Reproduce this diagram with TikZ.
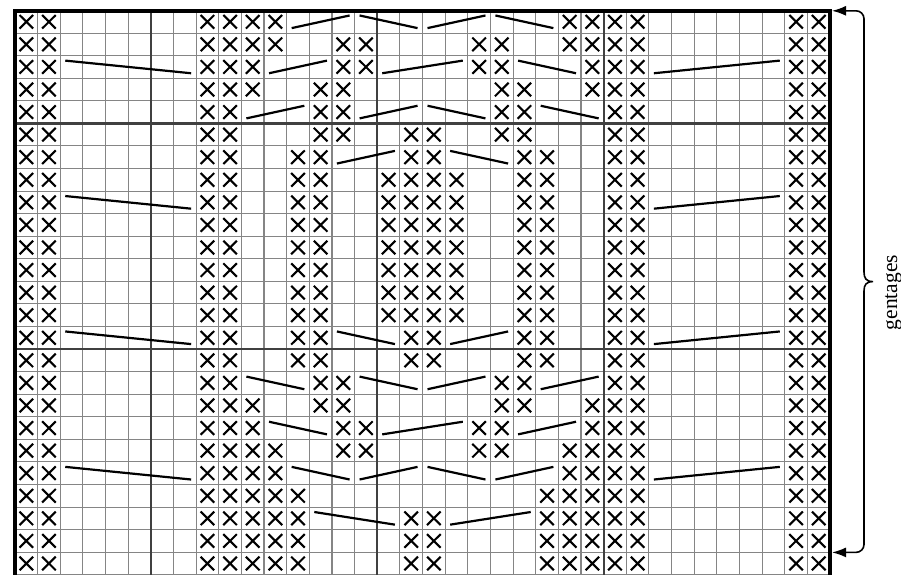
\documentclass[tikz,border=0pt]{standalone}
\usepackage{fontspec}
\setmainfont{Liberation Serif}
\usetikzlibrary{arrows.meta}
\newcommand\xmk[2]{\draw[xmark] (#1+0.2,#2+0.2) -- (#1+0.8,#2+0.8) (#1+0.8,#2+0.2) -- (#1+0.2,#2+0.8);}
\newcommand\cbd[3]{\draw[cable] (#2+0.22,#1+0.22) -- (#3+0.78,#1+0.78);}
\newcommand\cbu[3]{\draw[cable] (#2+0.22,#1+0.78) -- (#3+0.78,#1+0.22);}
\begin{document}
\begin{tikzpicture}[x=1pt,y=-1pt,
  gridline/.style={line width=1.1pt, draw=black!48},
  majorline/.style={line width=2.3pt, draw=black!75},
  borderline/.style={line width=4pt, draw=black},
  xmark/.style={line width=2.1pt, draw=black},
  cable/.style={line width=2.2pt, draw=black},
  bracket/.style={line width=1.6pt, draw=black, rounded corners=8pt},
  labeltext/.style={font=\fontsize{21.5}{25}\selectfont, rotate=90, anchor=base, inner sep=0pt}]
\useasboundingbox (0,0) rectangle (901,574);
\clip (0,0) rectangle (901,574);
\begin{scope}[shift={(15pt,-10.5pt)}, x=22.64pt, y=-22.57pt]
  \foreach \c in {1,...,35} {\draw[gridline] (\c,0) -- (\c,25.2);}
  \foreach \r in {1,...,25} {\draw[gridline] (0,\r) -- (36,\r);}
  \foreach \c in {6,16,26} {\draw[majorline] (\c,0) -- (\c,25.2);}
  \foreach \r in {5,15} {\draw[majorline] (0,\r) -- (36,\r);}
  \draw[borderline] (0,25.2) -- (0,0) -- (36,0) -- (36,25.2);
  % X marks
  \foreach \c in {0,1,8,9,10,11,24,25,26,27,34,35} {\xmk{\c}{0}}
  \foreach \c in {0,1,8,9,10,11,14,15,20,21,24,25,26,27,34,35} {\xmk{\c}{1}}
  \foreach \c in {0,1,8,9,10,14,15,20,21,25,26,27,34,35} {\xmk{\c}{2}}
  \foreach \c in {0,1,8,9,10,13,14,21,22,25,26,27,34,35} {\xmk{\c}{3}}
  \foreach \c in {0,1,8,9,13,14,21,22,26,27,34,35} {\xmk{\c}{4}}
  \foreach \c in {0,1,8,9,13,14,17,18,21,22,26,27,34,35} {\xmk{\c}{5}}
  \foreach \c in {0,1,8,9,12,13,17,18,22,23,26,27,34,35} {\xmk{\c}{6}}
  \foreach \r in {7,...,13} {\foreach \c in {0,1,8,9,12,13,16,17,18,19,22,23,26,27,34,35} {\xmk{\c}{\r}}}
  \foreach \r in {14,15} {\foreach \c in {0,1,8,9,12,13,17,18,22,23,26,27,34,35} {\xmk{\c}{\r}}}
  \foreach \c in {0,1,8,9,13,14,21,22,26,27,34,35} {\xmk{\c}{16}}
  \foreach \c in {0,1,8,9,10,13,14,21,22,25,26,27,34,35} {\xmk{\c}{17}}
  \foreach \c in {0,1,8,9,10,14,15,20,21,25,26,27,34,35} {\xmk{\c}{18}}
  \foreach \c in {0,1,8,9,10,11,14,15,20,21,24,25,26,27,34,35} {\xmk{\c}{19}}
  \foreach \c in {0,1,8,9,10,11,24,25,26,27,34,35} {\xmk{\c}{20}}
  \foreach \c in {0,1,8,9,10,11,12,23,24,25,26,27,34,35} {\xmk{\c}{21}}
  \foreach \r in {22,23,24} {\foreach \c in {0,1,8,9,10,11,12,17,18,23,24,25,26,27,34,35} {\xmk{\c}{\r}}}
  % cable lines
  \cbu{0}{12}{14} \cbd{0}{15}{17} \cbu{0}{18}{20} \cbd{0}{21}{23}
  \cbd{2}{2}{7} \cbu{2}{11}{13} \cbu{2}{16}{19} \cbd{2}{22}{24} \cbu{2}{28}{33}
  \cbu{4}{10}{12} \cbu{4}{15}{17} \cbd{4}{18}{20} \cbd{4}{23}{25}
  \cbu{6}{14}{16} \cbd{6}{19}{21}
  \cbd{8}{2}{7} \cbu{8}{28}{33}
  \cbd{14}{2}{7} \cbd{14}{14}{16} \cbu{14}{19}{21} \cbu{14}{28}{33}
  \cbd{16}{10}{12} \cbd{16}{15}{17} \cbu{16}{18}{20} \cbu{16}{23}{25}
  \cbd{18}{11}{13} \cbu{18}{16}{19} \cbu{18}{22}{24}
  \cbd{20}{2}{7} \cbd{20}{12}{14} \cbu{20}{15}{17} \cbd{20}{18}{20} \cbu{20}{21}{23} \cbu{20}{28}{33}
  \cbd{22}{13}{16} \cbu{22}{19}{22}
\end{scope}
% bracket with arrows
\coordinate (topa) at (832,10.8);
\coordinate (bota) at (832,552.4);
\coordinate (tcorner) at (864,10.8);
\coordinate (bcorner) at (864,552.4);
\coordinate (tipu) at (864,272);
\coordinate (tipd) at (864,291);
\coordinate (tip) at (873,281.6);
\draw[bracket, -{Latex[length=14pt,width=10pt]}] (tipu) -- (tcorner) -- (topa);
\draw[bracket, -{Latex[length=14pt,width=10pt]}] (tipd) -- (bcorner) -- (bota);
\draw[line width=1.6pt] (tipu) .. controls (864,278) and (866,281.6) .. (tip) .. controls (866,281.6) and (864,285) .. (tipd);
\node[labeltext] (lab) at (897,292.5) {gentages};
\end{tikzpicture}
\end{document}
